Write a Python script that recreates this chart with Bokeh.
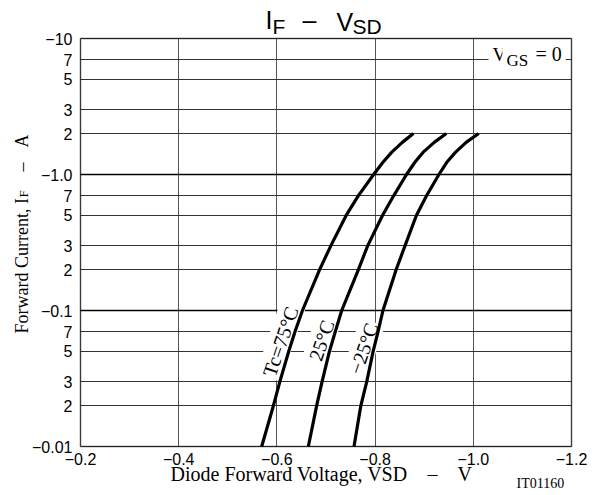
import math
from bokeh.plotting import figure
from bokeh.models import (Range1d, FixedTicker, Label, Grid, CustomJSTickFormatter,
                          LinearAxis, LogAxis, BoxAnnotation)
from bokeh.embed import file_html
from bokeh.resources import INLINE

# ---- data ----
x_ticks = [-0.2, -0.4, -0.6, -0.8, -1.0, -1.2]
x_tick_labels = ["\u22120.2", "\u22120.4", "\u22120.6", "\u22120.8", "\u22121.0", "\u22121.2"]
y_ticks = [0.01, 0.02, 0.03, 0.05, 0.07, 0.1, 0.2, 0.3, 0.5, 0.7,
           1.0, 2.0, 3.0, 5.0, 7.0, 10.0]
y_tick_labels = ["\u22120.01", "2", "3", "5", "7", "\u22120.1", "2", "3", "5", "7",
                 "\u22121.0", "2", "3", "5", "7", "\u221210"]
decade_ticks = [0.1, 1.0]

current_A = [0.01, 0.02, 0.03, 0.05, 0.07, 0.1, 0.2, 0.3, 0.5, 0.7, 1.0, 1.23, 1.46, 1.73, 2.0]
vsd_tc75 = [-0.569, -0.593, -0.606, -0.624, -0.637, -0.652, -0.687, -0.710, -0.741, -0.766,
            -0.797, -0.816, -0.834, -0.856, -0.878]
vsd_tc25 = [-0.664, -0.681, -0.692, -0.707, -0.719, -0.732, -0.766, -0.785, -0.815, -0.838,
            -0.864, -0.881, -0.898, -0.921, -0.945]
vsd_tcm25 = [-0.757, -0.771, -0.783, -0.796, -0.806, -0.816, -0.843, -0.861, -0.884, -0.905,
             -0.930, -0.946, -0.964, -0.986, -1.011]
curve_labels = ["Tc=75\u00b0C", "25\u00b0C", "\u221225\u00b0C"]

# ---- layout constants (pixels in the picture) ----
W, H = 599, 495
PX_L, PX_R, PY_T, PY_B = 80, 571, 38, 446
X_LO, X_HI = x_ticks[0], x_ticks[-1]
Y_LO, Y_HI = y_ticks[0], y_ticks[-1]

kx = (X_HI - X_LO) / (PX_R - PX_L)
x_start = X_LO + kx * (0 - PX_L)
x_end = X_LO + kx * (W - PX_L)
lyl, lyh = math.log10(Y_LO), math.log10(Y_HI)
ky = (lyh - lyl) / (PY_B - PY_T)
y_start = 10 ** (lyl + ky * (PY_B - H))
y_end = 10 ** (lyl + ky * (PY_B - 0))

p = figure(width=W, height=H, title=None,
           x_range=Range1d(x_start, x_end), y_range=Range1d(y_start, y_end),
           y_axis_type="log", x_axis_location=None, y_axis_location=None,
           output_backend="svg", toolbar_location=None,
           min_border=0, min_border_left=0, min_border_right=0,
           min_border_top=0, min_border_bottom=0)
p.background_fill_color = "white"
p.border_fill_color = "white"
p.outline_line_color = None
p.grid.visible = False

xt = FixedTicker(ticks=x_ticks)
yt = FixedTicker(ticks=y_ticks)

xfmt = CustomJSTickFormatter(args=dict(t=x_ticks, l=x_tick_labels), code="""
let b = 0, bd = Infinity;
for (let i = 0; i < t.length; i++) { const d = Math.abs(t[i] - tick); if (d < bd) { bd = d; b = i } }
return l[b];""")
yfmt = CustomJSTickFormatter(args=dict(t=y_ticks, l=y_tick_labels), code="""
let b = 0, bd = Infinity;
for (let i = 0; i < t.length; i++) { const d = Math.abs(Math.log(t[i]) - Math.log(tick)); if (d < bd) { bd = d; b = i } }
return l[b];""")

xaxis = LinearAxis(ticker=xt, formatter=xfmt, fixed_location=Y_LO)
yaxis = LogAxis(ticker=yt, formatter=yfmt, fixed_location=X_LO)
for ax in (xaxis, yaxis):
    ax.major_tick_line_color = None
    ax.minor_tick_line_color = None
    ax.major_tick_out = 0
    ax.major_tick_in = 0
    ax.axis_line_color = None
    ax.major_label_text_font = "Liberation Sans"
    ax.major_label_text_font_size = "16px"
    ax.major_label_text_color = "black"
xaxis.major_label_standoff = 6
yaxis.major_label_standoff = 8
p.add_layout(xaxis, "below")
p.add_layout(yaxis, "left")

p.add_layout(Grid(dimension=0, ticker=xt, cross_bounds=(Y_LO, Y_HI),
                  grid_line_color="#555555", grid_line_width=1))
p.add_layout(Grid(dimension=1, ticker=yt, cross_bounds=(X_LO, X_HI),
                  grid_line_color="#333333", grid_line_width=1))
p.add_layout(Grid(dimension=1, ticker=FixedTicker(ticks=decade_ticks), cross_bounds=(X_LO, X_HI),
                  grid_line_color="black", grid_line_width=1.6))

MID = 0.33  # distance (in em) from the alphabetic baseline up to the text box middle


def lab(text, px, py, size, font="Liberation Serif", align="left",
        angle=0, bg=None, pad=0, level="annotation", centered=False):
    """px, py: left end of the baseline (or the text centre when centered=True)."""
    if not centered:
        if angle == 90:
            px = px - MID * size
        else:
            py = py - MID * size
    kw = dict(x=px, y=H - py, x_units="screen", y_units="screen",
              text=text, text_font=font, text_font_size=f"{size}px",
              text_align=align, text_baseline="middle", angle=angle,
              angle_units="deg", text_color="black", level=level)
    if bg is not None:
        kw.update(background_fill_color=bg, padding=pad)
    L = Label(**kw)
    p.add_layout(L)
    return L


# curve labels (with white backing that interrupts the grid)
lab(curve_labels[0], 280, 341, 20, align="center", angle=71,
    bg="white", pad=2, level="underlay", centered=True)
lab(curve_labels[1], 321, 340, 20, align="center", angle=71,
    bg="white", pad=2, level="underlay", centered=True)
lab(curve_labels[2], 363, 348, 20, align="center", angle=71,
    bg="white", pad=2, level="underlay", centered=True)

# V_GS = 0
lab("V", 488, 60, 19, bg="white", pad=4, level="underlay")
lab("GS", 502, 66, 17, bg="white", pad=4, level="underlay")
lab("= 0", 531, 60, 20, bg="white", pad=4, level="underlay")

# curves
for v in (vsd_tc75, vsd_tc25, vsd_tcm25):
    p.line(v, current_A, line_color="black", line_width=3.2, line_join="round")

# chart border
p.add_layout(BoxAnnotation(left=X_LO, right=X_HI, bottom=Y_LO, top=Y_HI,
                           fill_color=None, line_color="black", line_width=2))

# title  I_F - V_SD
lab("I", 265, 28, 25, font="Liberation Sans")
lab("F", 272, 33, 21, font="Liberation Sans")
lab("\u2013", 302, 28, 25, font="Liberation Sans")
lab("V", 336, 30, 25, font="Liberation Sans")
lab("SD", 352, 33, 21, font="Liberation Sans")

# y-axis title
lab("Forward Current, I", 27, 333, 18, angle=90)
lab("F", 27, 197, 13, angle=90)
lab("\u2013", 27, 171, 18, angle=90)
lab("A", 27, 147, 18, angle=90)

# x-axis title
lab("Diode Forward Voltage, VSD", 170, 480, 20)
lab("\u2013", 427, 480, 20)
lab("V", 457, 480, 20)
lab("IT01160", 516, 488, 14)

open("out.html", "w").write(file_html(p, INLINE))
